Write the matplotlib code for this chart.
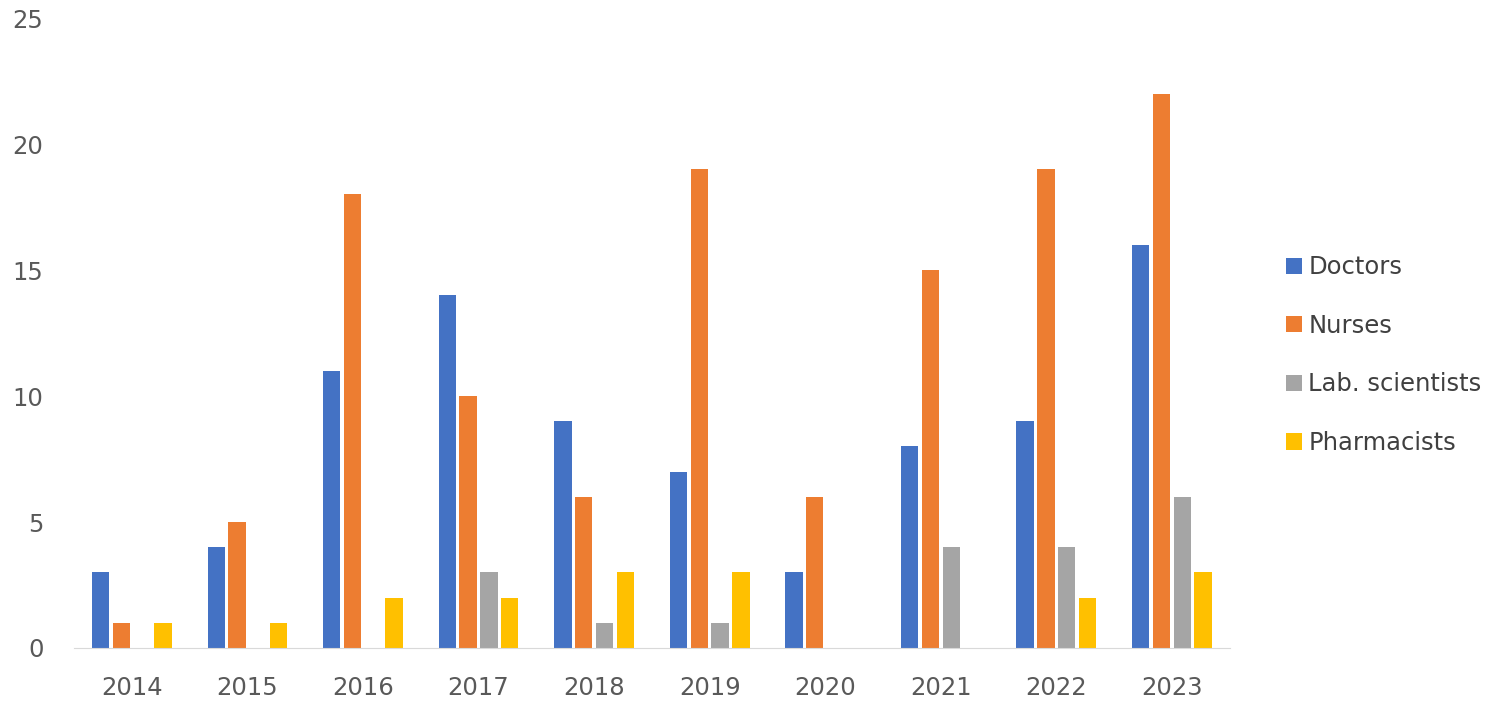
import numpy as np
import matplotlib
matplotlib.use('Agg')
import matplotlib.pyplot as plt

years = ["2014", "2015", "2016", "2017", "2018", "2019", "2020", "2021", "2022", "2023"]
doctors = [3, 4, 11, 14, 9, 7, 3, 8, 9, 16]
nurses = [1, 5, 18, 10, 6, 19, 6, 15, 19, 22]
lab_scientists = [0, 0, 0, 3, 1, 1, 0, 4, 4, 6]
pharmacists = [1, 1, 2, 2, 3, 3, 0, 0, 2, 3]

series = [
    ("Doctors", doctors, "#4472C4"),
    ("Nurses", nurses, "#ED7D31"),
    ("Lab. scientists", lab_scientists, "#A5A5A5"),
    ("Pharmacists", pharmacists, "#FFC000"),
]

fig = plt.figure(figsize=(14.9, 7.22), dpi=100)
ax = fig.add_axes([0.0497, 0.1025, 0.7756, 0.8725])

x = np.arange(len(years))
step = 0.18
width = 0.15
for i, (name, vals, col) in enumerate(series):
    ax.bar(x + (i - 1.5) * step, vals, width, color=col, label=name)

ax.set_xlim(-0.5, len(years) - 0.5)
ax.set_ylim(0, 25)
ax.set_yticks(range(0, 26, 5))
ax.set_xticks(x)
ax.set_xticklabels(years)
for s in ["top", "right", "left"]:
    ax.spines[s].set_visible(False)
ax.spines["bottom"].set_color("#D9D9D9")
ax.tick_params(axis="both", length=0, labelsize=17.5, colors="#595959")
ax.tick_params(axis="x", pad=20)
ax.tick_params(axis="y", pad=22)

leg = ax.legend(loc="center left", bbox_to_anchor=(1.03, 0.465), frameon=False,
                fontsize=17.5, handlelength=0.66, handleheight=0.66,
                handletextpad=0.25, labelspacing=1.42)
for t in leg.get_texts():
    t.set_color("#404040")

fig.savefig("out.png", dpi=100)
